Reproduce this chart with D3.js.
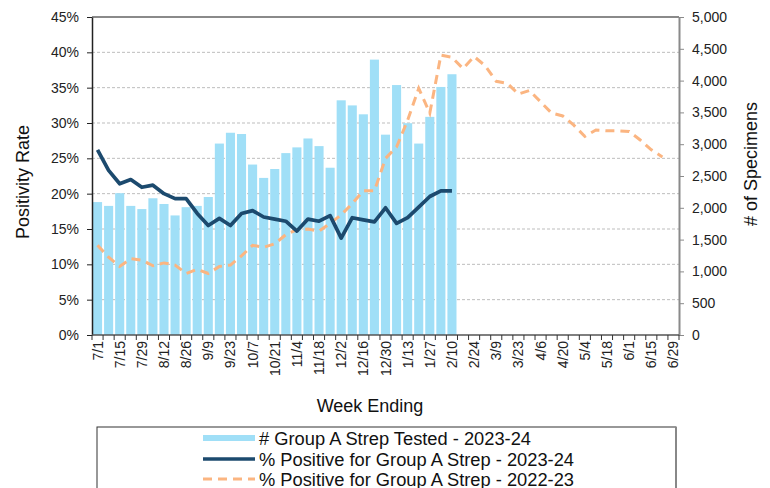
<!DOCTYPE html>
<html><head><meta charset="utf-8">
<script src="https://cdn.jsdelivr.net/npm/d3@7"></script>
<style>body{margin:0;background:#fff}svg{display:block;font-family:"Liberation Sans",Arial,sans-serif}</style>
</head><body><svg id="c" width="770" height="488"></svg>
<script>
const weeks = ["7/1","7/8","7/15","7/22","7/29","8/5","8/12","8/19","8/26","9/2","9/9","9/16","9/23","9/30","10/7","10/14","10/21","10/28","11/4","11/11","11/18","11/25","12/2","12/9","12/16","12/23","12/30","1/6","1/13","1/20","1/27","2/3","2/10","2/17","2/24","3/2","3/9","3/16","3/23","3/30","4/6","4/13","4/20","4/27","5/4","5/11","5/18","5/25","6/1","6/8","6/15","6/22","6/29"];
const shownLabels = ["7/1","7/15","7/29","8/12","8/26","9/9","9/23","10/7","10/21","11/4","11/18","12/2","12/16","12/30","1/13","1/27","2/10","2/24","3/9","3/23","4/6","4/20","5/4","5/18","6/1","6/15","6/29"];
const tested2324 = [2090,2030,2230,2030,1980,2150,2060,1880,2010,2030,2170,3010,3180,3160,2680,2470,2610,2860,2950,3090,2970,2630,3690,3610,3470,4330,3150,3930,3330,3010,3430,3900,4100];
const pos2324 = [26.2,23.3,21.4,22.0,20.9,21.2,20.0,19.3,19.3,17.2,15.5,16.5,15.5,17.2,17.6,16.7,16.4,16.1,14.7,16.4,16.1,16.9,13.7,16.6,16.3,16.0,18.0,15.8,16.6,18.1,19.6,20.4,20.4];
const pos2223 = [12.7,11.0,9.7,10.8,10.6,9.8,10.2,9.9,8.7,9.3,8.7,9.7,9.9,11.2,12.7,12.4,12.9,14.2,14.9,15.0,14.7,15.8,17.0,18.6,20.4,20.4,25.0,26.6,30.4,34.9,31.4,39.6,39.3,37.7,39.4,38.1,35.9,35.6,34.1,34.6,33.0,31.4,31.0,29.7,28.1,29.0,28.9,28.9,28.8,27.6,26.2,25.2];
const pctTicks = [0,5,10,15,20,25,30,35,40,45];
const countTicks = [0,500,1000,1500,2000,2500,3000,3500,4000,4500,5000];
const legendLabels = ["# Group A Strep Tested - 2023-24","% Positive for Group A Strep - 2023-24","% Positive for Group A Strep - 2022-23"];

const svg = d3.select("#c");
const L = 92, R = 679, T = 17, B = 335;
const x = d3.scaleBand().domain(weeks).range([L, R]).paddingInner(0.18).paddingOuter(0.09);
const xc = d => x(d) + x.bandwidth()/2;
const yP = d3.scaleLinear().domain([0,45]).range([B,T]);
const yC = d3.scaleLinear().domain([0,5000]).range([B,T]);

// gridlines
svg.append("g").selectAll("line").data(pctTicks.filter(t => t>0 && t<45)).join("line")
  .attr("x1",L).attr("x2",R).attr("y1",d=>yP(d)).attr("y2",d=>yP(d))
  .attr("stroke","#bdbdbd").attr("stroke-width",1).attr("stroke-dasharray","3,2");
svg.append("line").attr("x1",L).attr("x2",R).attr("y1",T).attr("y2",T).attr("stroke","#8a8a8a").attr("stroke-width",2);

// bars
svg.append("g").selectAll("rect").data(tested2324).join("rect")
  .attr("x",(d,i)=>x(weeks[i])).attr("width",x.bandwidth())
  .attr("y",d=>yC(d)).attr("height",d=>B-yC(d)).attr("fill","#a0dff7");

// lines
const line = d3.line().x((d,i)=>xc(weeks[i])).y(d=>yP(d));
svg.append("path").datum(pos2223).attr("d",line).attr("fill","none")
  .attr("stroke","#fbb581").attr("stroke-width",3).attr("stroke-dasharray","9,6");
svg.append("path").datum(pos2324).attr("d",line).attr("fill","none")
  .attr("stroke","#1c4a6e").attr("stroke-width",3.7).attr("stroke-linejoin","round");

// left axis
const gl = svg.append("g").attr("transform",`translate(${L},0)`)
  .call(d3.axisLeft(yP).tickValues(pctTicks).tickFormat(d=>d+"%").tickSize(5).tickSizeOuter(0));
gl.select(".domain").attr("stroke","#222").attr("stroke-width",1.5);
gl.selectAll(".tick line").attr("stroke","#222");
gl.selectAll("text").attr("font-size",14).attr("fill","#222").attr("x",-13).attr("font-family","Liberation Sans, Arial");

// right axis
const gr = svg.append("g").attr("transform",`translate(${R},0)`)
  .call(d3.axisRight(yC).tickValues(countTicks).tickFormat(d3.format(",")).tickSize(5).tickSizeOuter(0));
gr.select(".domain").attr("stroke","#8a8a8a").attr("stroke-width",2);
gr.selectAll(".tick line").attr("stroke","#8a8a8a");
gr.selectAll("text").attr("font-size",14).attr("fill","#222").attr("x",13).attr("font-family","Liberation Sans, Arial");

// x axis: ticks at category boundaries
const bounds = weeks.map((w,i)=> L + i*(R-L)/weeks.length).concat([R]);
svg.append("line").attr("x1",L).attr("x2",R).attr("y1",B).attr("y2",B).attr("stroke","#555").attr("stroke-width",1.5);
svg.append("g").selectAll("line").data(bounds).join("line")
  .attr("x1",d=>d).attr("x2",d=>d).attr("y1",B).attr("y2",B+5).attr("stroke","#333");
svg.append("g").selectAll("text").data(shownLabels).join("text")
  .attr("transform",d=>`translate(${xc(d)+5},${B+6}) rotate(-90)`)
  .attr("text-anchor","end").attr("font-size",14).attr("fill","#222").text(d=>d);

// axis titles
svg.append("text").attr("transform","translate(29,182) rotate(-90)").attr("text-anchor","middle")
  .attr("font-size",18).attr("fill","#111").text("Positivity Rate");
svg.append("text").attr("transform","translate(757,164) rotate(-90)").attr("text-anchor","middle")
  .attr("font-size",18).attr("fill","#111").text("# of Specimens");
svg.append("text").attr("x",370).attr("y",412).attr("text-anchor","middle")
  .attr("font-size",18).attr("fill","#111").text("Week Ending");

// legend
const lg = svg.append("g");
lg.append("rect").attr("x",97).attr("y",427).attr("width",579).attr("height",80)
  .attr("fill","#fff").attr("stroke","#333").attr("stroke-width",1);
lg.append("line").attr("x1",676).attr("x2",676).attr("y1",427).attr("y2",488).attr("stroke","#888").attr("stroke-width",2);
const ly = [438,459,479];
lg.append("rect").attr("x",203).attr("y",ly[0]-3).attr("width",52).attr("height",6).attr("fill","#a0dff7");
lg.append("line").attr("x1",203).attr("x2",255).attr("y1",ly[1]).attr("y2",ly[1]).attr("stroke","#1c4a6e").attr("stroke-width",3.7);
lg.append("line").attr("x1",203).attr("x2",255).attr("y1",ly[2]).attr("y2",ly[2]).attr("stroke","#fbb581").attr("stroke-width",3).attr("stroke-dasharray","9,6");
lg.selectAll("text").data(legendLabels).join("text")
  .attr("x",259).attr("y",(d,i)=>ly[i]+6.5).attr("font-size",18.3).attr("fill","#111").text(d=>d);
</script></body></html>
